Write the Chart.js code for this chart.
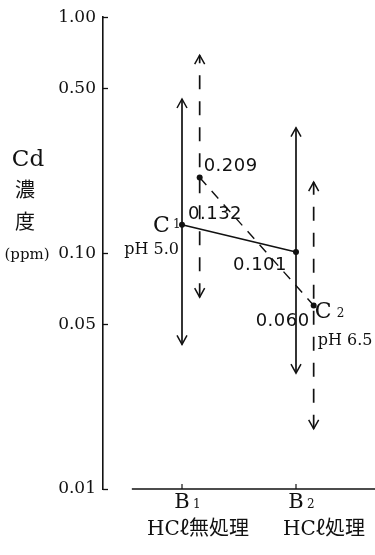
<!DOCTYPE html>
<html>
<head>
<meta charset="utf-8">
<script src="https://cdn.jsdelivr.net/npm/chart.js@4.4.1/dist/chart.umd.min.js"></script>
<style>
  body { margin: 0; background: #fff; }
  #wrap { width: 375px; height: 555px; position: relative; }
</style>
</head>
<body>
<div id="wrap"><canvas id="chart"></canvas></div>
<script>
// categories on the x axis
const categories = ['B', 'B'];
const categorySubs = ['1', '2'];
const categoryNotes = ['HCℓ無処理', 'HCℓ処理'];
const catX = [1, 2];

// C1 (pH 5.0), solid
const c1Means = [0.132, 0.101];
const c1Upper = [0.45, 0.34];
const c1Lower = [0.041, 0.031];

// C2 (pH 6.5), dashed
const c2Means = [0.209, 0.060];
const c2Upper = [0.69, 0.20];
const c2Lower = [0.065, 0.018];

const yTicks = [0.01, 0.05, 0.10, 0.50, 1.00];

const C2_SHIFT = 0.155;     // C2 drawn a little right of each B
const noteShift = [16, 28]; // px offset of the second-line labels
const INK = '#111';

function rangeSet(x, lo, hi, dashed) {
    return {
        data: [{ x: x, y: lo }, { x: x, y: hi }],
        borderColor: INK,
        borderWidth: 1.7,
        borderDash: dashed ? [14, 12] : [],
        pointRadius: 0,
        arrows: true,
        order: 2
    };
}

const datasets = [
    {
        data: catX.map((x, i) => ({ x: x, y: c1Means[i] })),
        borderColor: INK,
        borderWidth: 1.6,
        pointRadius: 3,
        pointBackgroundColor: INK,
        pointBorderWidth: 0,
        order: 1
    },
    {
        data: catX.map((x, i) => ({ x: x + C2_SHIFT, y: c2Means[i] })),
        borderColor: INK,
        borderWidth: 1.4,
        borderDash: [10, 8],
        pointRadius: 3,
        pointBackgroundColor: INK,
        pointBorderWidth: 0,
        order: 1
    }
];
catX.forEach((x, i) => {
    datasets.push(rangeSet(x, c1Lower[i], c1Upper[i], false));
    datasets.push(rangeSet(x + C2_SHIFT, c2Lower[i], c2Upper[i], true));
});

// open arrow heads at both ends of each range line
const arrowPlugin = {
    id: 'arrows',
    afterDatasetsDraw(chart) {
        const ctx = chart.ctx;
        ctx.save();
        ctx.strokeStyle = INK;
        ctx.lineWidth = 1.5;
        ctx.setLineDash([]);
        chart.data.datasets.forEach((ds, di) => {
            if (!ds.arrows) return;
            const pts = chart.getDatasetMeta(di).data;
            const lo = pts[0], hi = pts[1];
            [[hi, -1], [lo, 1]].forEach(([p, dir]) => {
                ctx.beginPath();
                ctx.moveTo(p.x - 5, p.y - dir * 9);
                ctx.lineTo(p.x, p.y);
                ctx.lineTo(p.x + 5, p.y - dir * 9);
                ctx.stroke();
            });
        });
        ctx.restore();
    }
};

function subText(ctx, main, sub, x, y, mainFont, subFont, subDx, subDy) {
    ctx.font = mainFont;
    ctx.textAlign = 'left';
    ctx.textBaseline = 'alphabetic';
    ctx.fillText(main, x, y);
    ctx.font = subFont;
    ctx.fillText(sub, x + subDx, y + subDy);
}

// value labels, group labels, axis text
const textPlugin = {
    id: 'texts',
    afterDraw(chart) {
        const ctx = chart.ctx;
        const xs = chart.scales.x, ys = chart.scales.y;
        const area = chart.chartArea;
        ctx.save();
        ctx.fillStyle = INK;
        ctx.strokeStyle = INK;

        // inward y ticks
        ctx.lineWidth = 1.3;
        yTicks.forEach(v => {
            const py = Math.round(ys.getPixelForValue(v)) + 0.5;
            ctx.beginPath();
            ctx.moveTo(area.left, py);
            ctx.lineTo(area.left + 5, py);
            ctx.stroke();
        });

        // x axis line, starts a little right of the y axis
        const axisY = area.bottom;
        ctx.lineWidth = 1.6;
        ctx.beginPath();
        ctx.moveTo(xs.getPixelForValue(0.56), axisY);
        ctx.lineTo(area.right, axisY);
        ctx.stroke();

        catX.forEach((x, i) => {
            const px = xs.getPixelForValue(x);
            ctx.lineWidth = 1.2;
            ctx.beginPath();
            ctx.moveTo(px, axisY);
            ctx.lineTo(px, axisY - 5);
            ctx.stroke();
            ctx.font = '21px "DejaVu Serif"';
            ctx.textAlign = 'center';
            ctx.textBaseline = 'alphabetic';
            ctx.fillText(categories[i], px, axisY + 19);
            ctx.font = '12px "DejaVu Serif"';
            ctx.textAlign = 'left';
            ctx.fillText(categorySubs[i], px + 11, axisY + 19);
            ctx.font = '20px "DejaVu Serif", "Noto Sans CJK JP"';
            ctx.textAlign = 'center';
            ctx.textBaseline = 'middle';
            ctx.fillText(categoryNotes[i], px + noteShift[i], axisY + 41);
        });

        // value labels
        ctx.font = '18px "DejaVu Sans"';
        ctx.letterSpacing = '0.5px';
        ctx.textBaseline = 'middle';
        const m1 = chart.getDatasetMeta(0).data;
        const m2 = chart.getDatasetMeta(1).data;
        ctx.textAlign = 'left';
        ctx.fillText(c1Means[0].toFixed(3), m1[0].x + 6, m1[0].y - 10);
        ctx.fillText(c2Means[0].toFixed(3), m2[0].x + 4, m2[0].y - 11);
        ctx.textAlign = 'right';
        ctx.fillText(c1Means[1].toFixed(3), m1[1].x - 9, m1[1].y + 13);
        ctx.fillText(c2Means[1].toFixed(3), m2[1].x - 4, m2[1].y + 16);
        ctx.letterSpacing = '0px';

        // group labels
        subText(ctx, 'C', '1', m1[0].x - 29, m1[0].y + 7,
            '22px "DejaVu Serif"', '12px "DejaVu Serif"', 20, -4);
        subText(ctx, 'C', '2', m2[1].x + 1, m2[1].y + 13,
            '22px "DejaVu Serif"', '12px "DejaVu Serif"', 22, -1);
        ctx.font = '16px "DejaVu Serif"';
        ctx.textBaseline = 'middle';
        ctx.textAlign = 'right';
        ctx.fillText('pH 5.0', m1[0].x - 3, m1[0].y + 25);
        ctx.textAlign = 'left';
        ctx.fillText('pH 6.5', m2[1].x + 4, m2[1].y + 35);

        // y title
        ctx.textAlign = 'center';
        ctx.font = '23px "DejaVu Serif"';
        ctx.fillText('Cd', 28, 160);
        ctx.font = '20px "Noto Sans CJK JP"';
        ctx.fillText('濃', 25, 189);
        ctx.fillText('度', 25, 221);
        ctx.font = '15px "DejaVu Serif"';
        ctx.fillText('(ppm)', 27, 255);

        ctx.restore();
    }
};

new Chart(document.getElementById('chart'), {
    type: 'line',
    data: { datasets: datasets },
    options: {
        responsive: true,
        maintainAspectRatio: false,
        animation: false,
        layout: { autoPadding: false, padding: { top: 15, right: 0, bottom: 66, left: 0 } },
        plugins: {
            legend: { display: false },
            tooltip: { enabled: false }
        },
        scales: {
            x: {
                type: 'linear',
                min: 0.307,
                max: 2.693,
                display: false
            },
            y: {
                type: 'logarithmic',
                min: 0.01,
                max: 1,
                afterBuildTicks: (scale) => {
                    scale.ticks = yTicks.map(v => ({ value: v }));
                },
                afterFit: (scale) => { scale.width = 103; },
                ticks: {
                    color: INK,
                    font: { family: 'DejaVu Serif', size: 17 },
                    padding: 7,
                    callback: (v) => Number(v).toFixed(2)
                },
                grid: { drawOnChartArea: false, drawTicks: false },
                border: { display: true, color: INK, width: 1.6 }
            }
        }
    },
    plugins: [arrowPlugin, textPlugin]
});
</script>
</body>
</html>
